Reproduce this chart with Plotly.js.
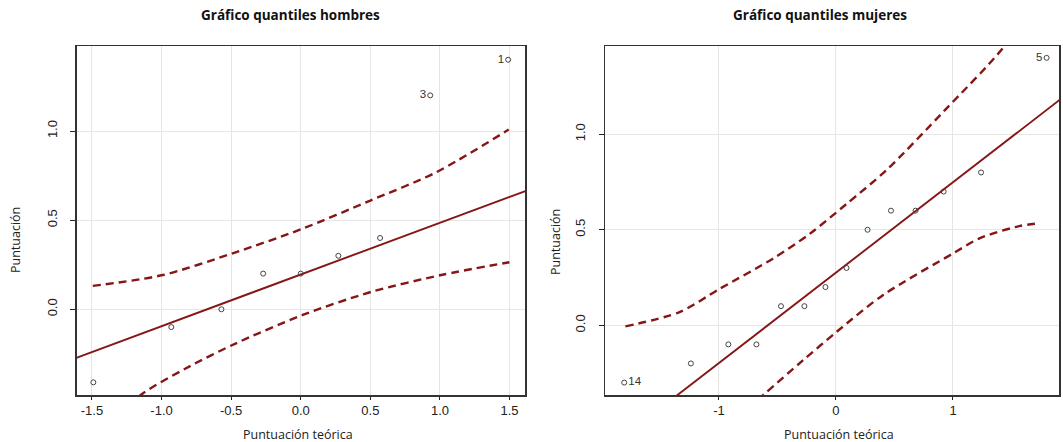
<!DOCTYPE html>
<html>
<head>
<meta charset="utf-8">
<script src="https://cdn.plot.ly/plotly-3.0.1.min.js"></script>
<style>html,body{margin:0;padding:0;background:#fff;}#chart{width:1063px;height:442px;}</style>
</head>
<body>
<div id="chart"></div>
<script>
// ---- Data: men (hombres) ----
const menTheoretical = [-1.49, -0.93, -0.57, -0.27, 0.0, 0.27, 0.57, 0.93, 1.49];
const menScores      = [-0.41, -0.10, 0.00, 0.20, 0.20, 0.30, 0.40, 1.20, 1.40];
const menLabels      = ['', '', '', '', '', '', '', '3', '1'];
const menRefX        = [-1.62, 1.62];
const menRefY        = [-0.275, 0.665];
const menUpperX      = [-1.494, -0.991, -0.489, 0.0, 0.5, 0.972, 1.494];
const menUpperY      = [0.131, 0.192, 0.314, 0.448, 0.61, 0.768, 1.008];
const menLowerX      = [-1.5, -1.147, -0.824, -0.465, 0.014, 0.504, 1.009, 1.499];
const menLowerY      = [-0.74, -0.48, -0.331, -0.191, -0.032, 0.097, 0.192, 0.264];
const menXTicks      = [-1.5, -1.0, -0.5, 0.0, 0.5, 1.0, 1.5];
const menXTickText   = ['-1.5', '-1.0', '-0.5', '0.0', '0.5', '1.0', '1.5'];

// ---- Data: women (mujeres) ----
const womenTheoretical = [-1.81, -1.24, -0.92, -0.68, -0.47, -0.27, -0.09, 0.09, 0.27, 0.47, 0.68, 0.92, 1.24, 1.80];
const womenScores      = [-0.30, -0.20, -0.10, -0.10, 0.10, 0.10, 0.20, 0.30, 0.50, 0.60, 0.60, 0.70, 0.80, 1.40];
const womenLabels      = ['14', '', '', '', '', '', '', '', '', '', '', '', '', '5'];
const womenRefX        = [-1.98, 1.92];
const womenRefY        = [-0.661, 1.184];
const womenUpperX      = [-1.80, -1.337, -0.997, -0.536, -0.222, 0.09, 0.436, 0.929, 1.425, 1.80];
const womenUpperY      = [-0.006, 0.069, 0.19, 0.35, 0.48, 0.635, 0.815, 1.125, 1.45, 1.78];
const womenLowerX      = [-1.0, -0.621, -0.279, 0.006, 0.404, 1.003, 1.231, 1.573, 1.744];
const womenLowerY      = [-0.57, -0.365, -0.182, -0.034, 0.159, 0.377, 0.456, 0.52, 0.534];
const womenXTicks      = [-1, 0, 1];
const womenXTickText   = ['-1', '0', '1'];

const yTicks    = [0.0, 0.5, 1.0];
const yTickText = ['0.0', '0.5', '1.0'];

const lineColor = '#861616';
const dashStyle = '8px,5px';

function panel(xs, ys, labels, positions, refX, refY, upX, upY, loX, loY, xa, ya) {
  return [
    {x: upX, y: upY, xaxis: xa, yaxis: ya, mode: 'lines', type: 'scatter',
     line: {color: lineColor, width: 2.4, dash: dashStyle, shape: 'spline', smoothing: 0.8}, hoverinfo: 'skip'},
    {x: loX, y: loY, xaxis: xa, yaxis: ya, mode: 'lines', type: 'scatter',
     line: {color: lineColor, width: 2.4, dash: dashStyle, shape: 'spline', smoothing: 0.8}, hoverinfo: 'skip'},
    {x: refX, y: refY, xaxis: xa, yaxis: ya, mode: 'lines', type: 'scatter',
     line: {color: lineColor, width: 1.9}, hoverinfo: 'skip'},
    {x: xs, y: ys, xaxis: xa, yaxis: ya, mode: 'markers+text', type: 'scatter',
     text: labels, textposition: positions,
     textfont: {family: 'Liberation Sans, Arial, sans-serif', size: 11.5, color: '#333'},
     marker: {symbol: 'circle-open', size: 5, color: '#444', line: {width: 1, color: '#444'}},
     cliponaxis: false}
  ];
}

const menPos = menLabels.map(l => 'middle left');
const womenPos = womenLabels.map((l, i) => i === 0 ? 'middle right' : 'middle left');

const data = [
  ...panel(menTheoretical, menScores, menLabels, menPos, menRefX, menRefY, menUpperX, menUpperY, menLowerX, menLowerY, 'x', 'y'),
  ...panel(womenTheoretical, womenScores, womenLabels, womenPos, womenRefX, womenRefY, womenUpperX, womenUpperY, womenLowerX, womenLowerY, 'x2', 'y2')
];

const tickFont = {family: 'Liberation Sans, Arial, sans-serif', size: 13, color: '#222'};
const baseX = {
  showgrid: true, gridcolor: '#e6e6e6', gridwidth: 1, zeroline: false,
  showline: true, linecolor: '#333', linewidth: 1.5, mirror: true,
  ticks: 'outside', ticklen: 3, tickcolor: '#222', tickfont: tickFont
};
const baseY = Object.assign({}, baseX, {
  tickvals: yTicks, ticktext: yTickText, tickangle: -90, ticklen: 5, ticklabelstandoff: 8
});

const labelFont = {family: '"Open Sans", Lato, sans-serif', size: 12.5, color: '#222'};
const titleFont = {family: '"Open Sans", Lato, sans-serif', size: 13.5, color: '#111', weight: 'bold'};

const layout = {
  width: 1063, height: 442,
  margin: {l: 0, r: 0, t: 0, b: 0},
  paper_bgcolor: '#fff', plot_bgcolor: '#fff',
  showlegend: false,
  xaxis: Object.assign({}, baseX, {domain: [76.5/1063, 525/1063], range: [-1.611, 1.611], tickvals: menXTicks, ticktext: menXTickText, anchor: 'y'}),
  yaxis: Object.assign({}, baseY, {domain: [47/442, 396/442], range: [-0.481, 1.477], anchor: 'x'}),
  xaxis2: Object.assign({}, baseX, {domain: [605/1063, 1059/1063], range: [-1.974, 1.906], tickvals: womenXTicks, ticktext: womenXTickText, anchor: 'y2'}),
  yaxis2: Object.assign({}, baseY, {domain: [47/442, 396/442], range: [-0.365, 1.462], anchor: 'x2'}),
  annotations: [
    {text: '<b>Gráfico quantiles hombres</b>', xref: 'paper', yref: 'paper', x: 290.5/1063, y: (442-15)/442, showarrow: false, font: titleFont, xanchor: 'center', yanchor: 'middle'},
    {text: '<b>Gráfico quantiles mujeres</b>', xref: 'paper', yref: 'paper', x: 820/1063, y: (442-15)/442, showarrow: false, font: titleFont, xanchor: 'center', yanchor: 'middle'},
    {text: 'Puntuación teórica', xref: 'paper', yref: 'paper', x: 298/1063, y: (442-434)/442, showarrow: false, font: labelFont, xanchor: 'center', yanchor: 'middle'},
    {text: 'Puntuación teórica', xref: 'paper', yref: 'paper', x: 838.5/1063, y: (442-434)/442, showarrow: false, font: labelFont, xanchor: 'center', yanchor: 'middle'},
    {text: 'Puntuación', xref: 'paper', yref: 'paper', x: 15/1063, y: (442-240)/442, showarrow: false, font: labelFont, textangle: -90, xanchor: 'center', yanchor: 'middle'},
    {text: 'Puntuación', xref: 'paper', yref: 'paper', x: 555/1063, y: (442-242)/442, showarrow: false, font: labelFont, textangle: -90, xanchor: 'center', yanchor: 'middle'}
  ]
};

Plotly.newPlot('chart', data, layout, {staticPlot: true, displayModeBar: false});
</script>
</body>
</html>
